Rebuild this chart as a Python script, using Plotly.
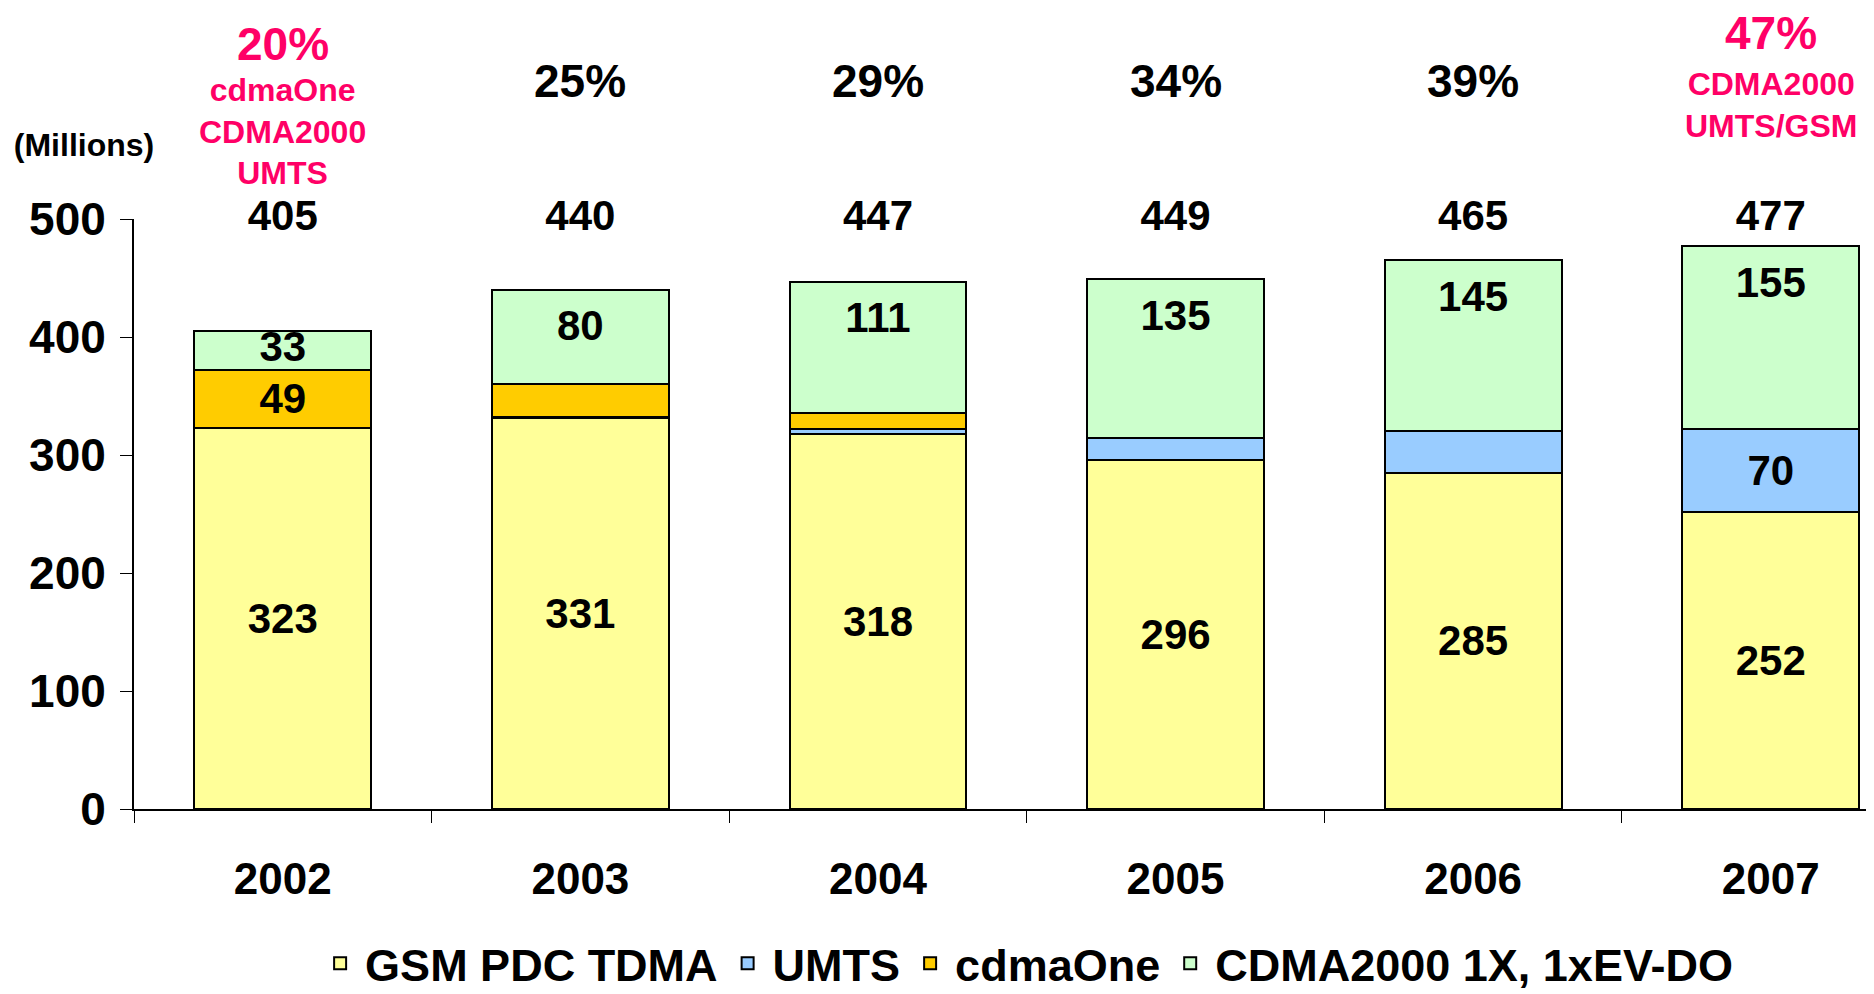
import plotly.graph_objects as go

years = ["2002", "2003", "2004", "2005", "2006", "2007"]
gsm = [323, 331, 318, 296, 285, 252]
umts = [0, 1, 4, 18, 35, 70]
cdmaone = [49, 28, 14, 0, 0, 0]
cdma2000 = [33, 80, 111, 135, 145, 155]
totals = [405, 440, 447, 449, 465, 477]
shares = ["20%", "25%", "29%", "34%", "39%", "47%"]

# which segments carry a value label
umts_labels = ["", "", "", "", "", "70"]
cdmaone_labels = ["49", "", "", "", "", ""]

note_years = ["2002", "2007"]
note_texts = ["cdmaOne<br>CDMA2000<br>UMTS", "CDMA2000<br>UMTS/GSM"]

FONT = "Liberation Sans, Arial, sans-serif"
PINK = "#FF0066"
X_RANGE = [-0.5, 5.347]
Y_RANGE = [0, 500]

fig = go.Figure()

series = [
    ("GSM PDC TDMA", gsm, "#FFFF99", [str(v) for v in gsm]),
    ("UMTS", umts, "#99CCFF", umts_labels),
    ("cdmaOne", cdmaone, "#FFCC00", cdmaone_labels),
    ("CDMA2000 1X, 1xEV-DO", cdma2000, "#CCFFCC", None),
]

for name, vals, color, labels in series:
    fig.add_trace(
        go.Bar(
            x=years,
            y=vals,
            name=name,
            marker=dict(color=color, line=dict(color="black", width=2)),
            width=0.594,
            text=labels,
            textposition="inside" if labels else "none",
            insidetextanchor="middle",
            textfont=dict(family=FONT, size=42, color="black", weight="bold"),
        )
    )


def text_trace(x, y, text, size, color="black"):
    fig.add_trace(
        go.Scatter(
            x=x, y=y, text=text, mode="text", cliponaxis=False, showlegend=False,
            hoverinfo="skip",
            textfont=dict(family=FONT, size=size, color=color, weight="bold"),
        )
    )


# CDMA2000 labels sit near the top of their segment
tops = [g + u + c + cd for g, u, c, cd in zip(gsm, umts, cdmaone, cdma2000)]
text_trace(years, [t - min(34, cd / 2) for t, cd in zip(tops, cdma2000)],
           [str(v) for v in cdma2000], 42)

# totals on the 500 line
text_trace(years, [500] * len(years), [str(v) for v in totals], 42)


# header texts sit above the axis range, so place them in paper coordinates
def header(year, value, text, size, color):
    xp = (years.index(year) - X_RANGE[0]) / (X_RANGE[1] - X_RANGE[0])
    yp = (value - Y_RANGE[0]) / (Y_RANGE[1] - Y_RANGE[0])
    fig.add_annotation(
        xref="paper", yref="paper", x=xp, y=yp, xanchor="center", yanchor="middle",
        text=text, showarrow=False,
        font=dict(family=FONT, size=size, color=color, weight="bold"),
    )


for yr, pct in zip(years, shares):
    if yr in note_years:
        header(yr, 648 if yr == "2002" else 658, pct, 46, PINK)
    else:
        header(yr, 617, pct, 46, "black")

for yr, note in zip(note_years, note_texts):
    header(yr, 574 if yr == "2002" else 597, note, 32, PINK)

# the page body adds an 8px offset, so the figure is 8px smaller than the window
fig.update_layout(
    barmode="stack",
    width=1866,
    height=986,
    margin=dict(l=126, r=0, t=211, b=185, autoexpand=False),
    plot_bgcolor="white",
    paper_bgcolor="white",
    font=dict(family=FONT, color="black"),
    title=dict(
        text="(Millions)", xref="container", yref="container",
        x=76 / 1866, xanchor="center", y=1 - 137 / 986, yanchor="middle",
        font=dict(family=FONT, size=32, color="black", weight="bold"),
    ),
    legend=dict(
        orientation="h", x=0.513, xanchor="center", y=-0.262, yanchor="middle",
        font=dict(family=FONT, size=45, color="black", weight="bold"),
        traceorder="normal",
        itemwidth=40,
        tracegroupgap=0,
    ),
    xaxis=dict(
        type="category",
        range=X_RANGE,
        tickson="boundaries",
        ticks="outside",
        ticklen=12,
        tickcolor="black",
        showline=True,
        linecolor="black",
        linewidth=2,
        showgrid=False,
        ticklabelstandoff=30,
        tickfont=dict(family=FONT, size=44, color="black", weight="bold"),
    ),
    yaxis=dict(
        range=Y_RANGE,
        dtick=100,
        ticks="outside",
        ticklen=12,
        tickcolor="black",
        showline=True,
        linecolor="black",
        linewidth=2,
        showgrid=False,
        zeroline=False,
        ticklabelstandoff=5,
        tickfont=dict(family=FONT, size=46, color="black", weight="bold"),
    ),
)

fig.write_html("out.html")
